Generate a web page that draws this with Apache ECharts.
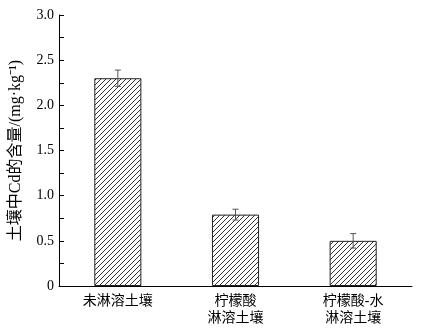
<!DOCTYPE html>
<html><head><meta charset="utf-8">
<script src="https://cdn.jsdelivr.net/npm/echarts@6/dist/echarts.min.js"></script>
<style>html,body{margin:0;padding:0;background:#fff}#c{width:421px;height:331px}</style>
</head><body><div id="c"></div>
<script>
const categories = ['未淋溶土壤', '柠檬酸\n淋溶土壤', '柠檬酸-水\n淋溶土壤'];
const values = [2.30, 0.79, 0.50];
const errors = [0.09, 0.06, 0.08];
const yTicks = [0, 0.5, 1.0, 1.5, 2.0, 2.5, 3.0];

const tile = document.createElement('canvas');
tile.width = 5; tile.height = 5;
const g = tile.getContext('2d');
g.fillStyle = '#fff'; g.fillRect(0,0,5,5);
g.strokeStyle = '#333'; g.lineWidth = 1;
g.beginPath();
g.moveTo(-1,6); g.lineTo(6,-1);
g.moveTo(-1,1); g.lineTo(1,-1);
g.moveTo(4,6); g.lineTo(6,4);
g.stroke();

const font = '"Times New Roman","Liberation Serif","Noto Sans CJK SC",serif';
const chart = echarts.init(document.getElementById('c'));
chart.setOption({
  backgroundColor: '#fff',
  animation: false,
  grid: {left: 58, right: 9, top: 15, bottom: 45},
  xAxis: {
    type: 'category', data: categories,
    axisLine: {lineStyle: {color: '#000', width: 1}},
    axisTick: {show: false},
    axisLabel: {color: '#000', fontSize: 14, fontFamily: font, margin: 7, lineHeight: 17}
  },
  yAxis: {
    type: 'value', min: 0, max: 3, interval: 0.25,
    name: '土壤中Cd的含量/(mg·kg⁻¹)', nameLocation: 'middle', nameGap: 35,
    nameTextStyle: {color: '#000', fontSize: 16, fontFamily: font},
    axisLine: {show: true, lineStyle: {color: '#000', width: 1}},
    axisTick: {show: true, inside: true, length: 5, lineStyle: {color: '#000'}},
    splitLine: {show: false},
    axisLabel: {color: '#000', fontSize: 14, fontFamily: font, margin: 5,
      formatter: v => yTicks.some(t => Math.abs(t - v) < 1e-9) ? (v === 0 ? '0' : v.toFixed(1)) : ''}
  },
  series: [{
    type: 'bar', data: values, barWidth: '40%',
    itemStyle: {color: {image: tile, repeat: 'repeat'}, borderColor: '#222', borderWidth: 1}
  }, {
    type: 'custom',
    data: values.map((v, i) => [i, v - errors[i], v + errors[i]]),
    renderItem: function (params, api) {
      const lo = api.coord([api.value(0), api.value(1)]);
      const hi = api.coord([api.value(0), api.value(2)]);
      const w = 3;
      const st = {stroke: '#555', lineWidth: 1};
      return {type: 'group', children: [
        {type: 'line', shape: {x1: lo[0], y1: lo[1], x2: hi[0], y2: hi[1]}, style: st},
        {type: 'line', shape: {x1: lo[0]-w, y1: lo[1], x2: lo[0]+w, y2: lo[1]}, style: st},
        {type: 'line', shape: {x1: hi[0]-w, y1: hi[1], x2: hi[0]+w, y2: hi[1]}, style: st}
      ]};
    },
    z: 5
  }]
});
</script></body></html>
